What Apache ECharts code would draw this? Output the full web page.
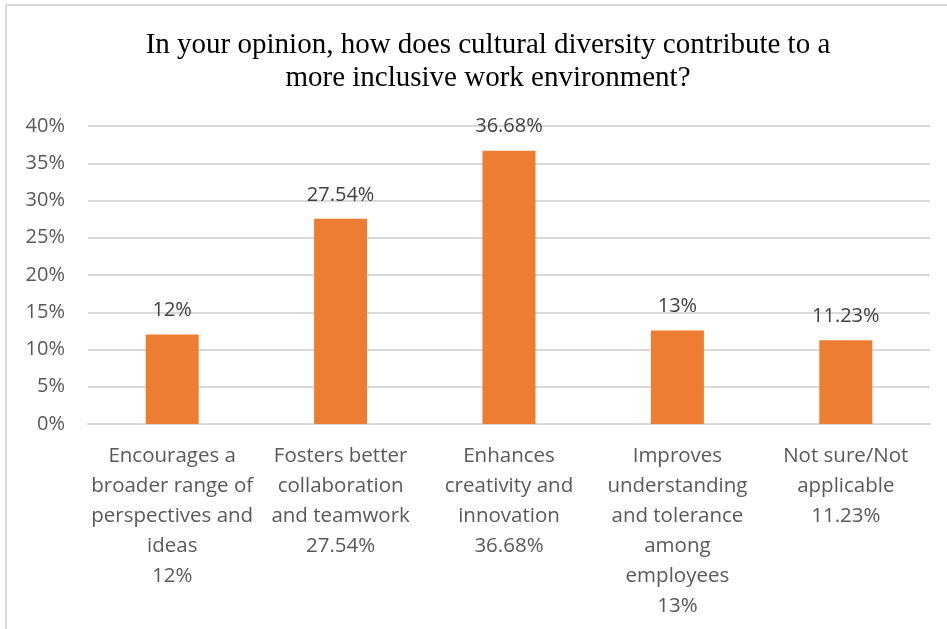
<!DOCTYPE html>
<html>
<head>
<meta charset="utf-8">
<script src="https://cdn.jsdelivr.net/npm/echarts@6/dist/echarts.min.js"></script>
<style>
html,body{margin:0;padding:0;background:#fff;}
#chart{width:947px;height:629px;}
</style>
</head>
<body>
<div id="chart"></div>
<script>
const titleText = "In your opinion, how does cultural diversity contribute to a\nmore inclusive work environment?";
const categories = [
  "Encourages a\nbroader range of\nperspectives and\nideas\n12%",
  "Fosters better\ncollaboration\nand teamwork\n27.54%",
  "Enhances\ncreativity and\ninnovation\n36.68%",
  "Improves\nunderstanding\nand tolerance\namong\nemployees\n13%",
  "Not sure/Not\napplicable\n11.23%"
];
const values = [12, 27.54, 36.68, 12.55, 11.23];
const valueLabels = ["12%", "27.54%", "36.68%", "13%", "11.23%"];
const yTicks = [0, 5, 10, 15, 20, 25, 30, 35, 40];

const chart = echarts.init(document.getElementById('chart'), null, {renderer: 'canvas'});
const font = "'Open Sans', Lato, sans-serif";
chart.setOption({
  animation: false,
  backgroundColor: '#ffffff',
  graphic: [{
    type: 'rect',
    shape: {x: 6, y: 5, width: 960, height: 640},
    style: {fill: 'none', stroke: '#d9d9d9', lineWidth: 2},
    silent: true
  }],
  title: {
    text: titleText,
    left: 483,
    textAlign: 'center',
    top: 24,
    textStyle: {
      fontFamily: "'Liberation Serif', 'Times New Roman', serif",
      fontSize: 29,
      fontWeight: 'normal',
      color: '#000000',
      lineHeight: 33
    }
  },
  grid: {left: 88, right: 17, top: 126, bottom: 205, containLabel: false},
  xAxis: {
    type: 'category',
    data: categories,
    axisLine: {show: true, lineStyle: {color: '#d9d9d9', width: 2}},
    axisTick: {show: false},
    axisLabel: {
      interval: 0,
      margin: 17,
      fontFamily: font,
      fontSize: 20.5,
      lineHeight: 30,
      color: '#595959',
      align: 'center'
    }
  },
  yAxis: {
    type: 'value',
    min: 0,
    max: 40,
    interval: 5,
    axisLine: {show: false},
    axisTick: {show: false},
    splitLine: {lineStyle: {color: '#d9d9d9', width: 2}},
    axisLabel: {
      margin: 23,
      fontFamily: font,
      fontSize: 20,
      color: '#595959',
      formatter: function (v) { return yTicks.indexOf(v) >= 0 ? v + '%' : ''; }
    }
  },
  series: [{
    type: 'bar',
    data: values,
    barWidth: 53,
    itemStyle: {color: '#ED7D31'},
    label: {
      show: true,
      position: 'top',
      distance: 14,
      fontFamily: font,
      fontSize: 20,
      color: '#404040',
      formatter: function (p) { return valueLabels[p.dataIndex]; }
    }
  }]
});
</script>
</body>
</html>
